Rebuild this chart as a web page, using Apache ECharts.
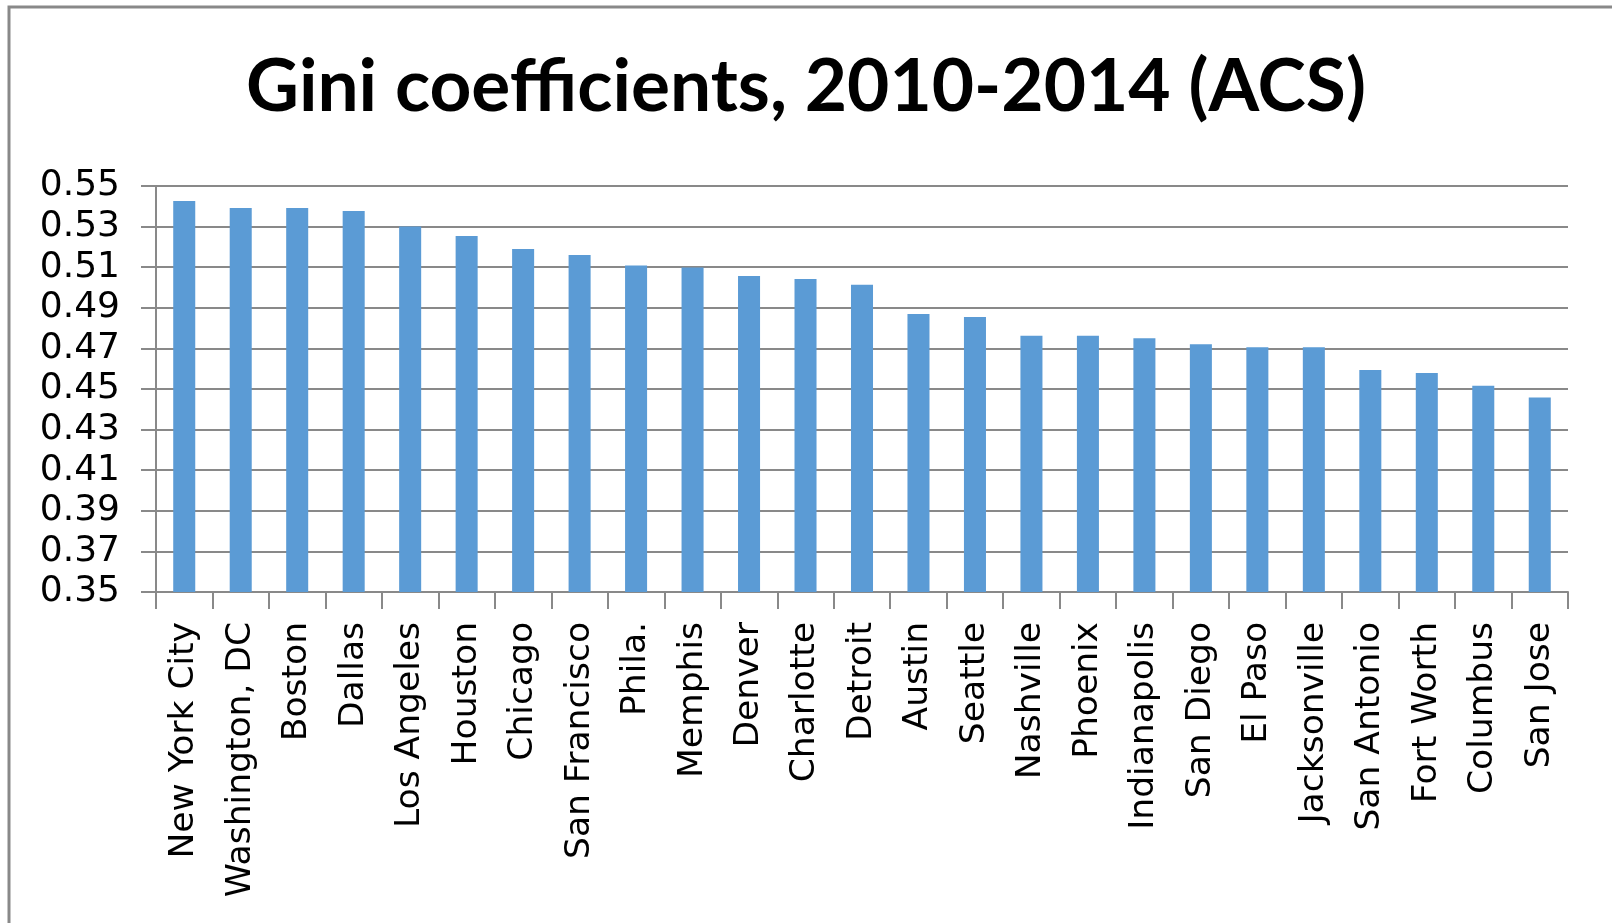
<!DOCTYPE html>
<html>
<head>
<meta charset="utf-8">
<script src="https://cdn.jsdelivr.net/npm/echarts@6/dist/echarts.min.js"></script>
<style>
html,body{margin:0;padding:0;background:#fff;}
#chart{width:1612px;height:923px;}
</style>
</head>
<body>
<div id="chart"></div>
<script>
const titleText = "Gini coefficients, 2010-2014 (ACS)";
const cities = ["New York City","Washington, DC","Boston","Dallas","Los Angeles","Houston","Chicago","San Francisco","Phila.","Memphis","Denver","Charlotte","Detroit","Austin","Seattle","Nashville","Phoenix","Indianapolis","San Diego","El Paso","Jacksonville","San Antonio","Fort Worth","Columbus","San Jose"];
const gini = [0.5426,0.5392,0.5392,0.5377,0.5300,0.5254,0.5190,0.5160,0.5108,0.5098,0.5057,0.5042,0.5013,0.4870,0.4855,0.4762,0.4762,0.4750,0.4721,0.4706,0.4706,0.4594,0.4579,0.4516,0.4458];
const yMin = 0.35, yMax = 0.55, yStep = 0.02;

const chart = echarts.init(document.getElementById('chart'), null, {renderer:'canvas'});
const gridColor = '#898989';
chart.setOption({
  animation: false,
  backgroundColor: '#ffffff',
  title: {
    text: titleText,
    left: 'center',
    top: 46,
    textStyle: {fontFamily: 'Lato', fontWeight: 'bold', fontSize: 73, color: '#000'}
  },
  graphic: [{
    type: 'polyline',
    shape: {points: [[9, 923], [9, 7], [1612, 7]]},
    style: {stroke: gridColor, lineWidth: 3, fill: null},
    silent: true
  }],
  grid: {left: 156, right: 44, top: 186, bottom: 331, containLabel: false},
  xAxis: {
    type: 'category',
    data: cities,
    boundaryGap: true,
    axisLine: {show: true, lineStyle: {color: gridColor, width: 2}},
    axisTick: {show: true, interval: 0, length: 17, lineStyle: {color: gridColor, width: 2}},
    axisLabel: {interval: 0, rotate: 90, margin: 30, fontFamily: 'DejaVu Sans', fontSize: 34.5, color: '#000'}
  },
  yAxis: {
    type: 'value',
    min: yMin, max: yMax, interval: yStep,
    axisLine: {show: true, lineStyle: {color: gridColor, width: 2}},
    axisTick: {show: true, length: 15, lineStyle: {color: gridColor, width: 2}},
    splitLine: {show: true, lineStyle: {color: gridColor, width: 2}},
    axisLabel: {margin: 36, fontFamily: 'DejaVu Sans', fontSize: 36, color: '#000',
      formatter: v => v.toFixed(2)}
  },
  series: [{
    type: 'bar',
    data: gini,
    barWidth: '39%',
    itemStyle: {color: '#5B9BD5'}
  }]
});
</script>
</body>
</html>
